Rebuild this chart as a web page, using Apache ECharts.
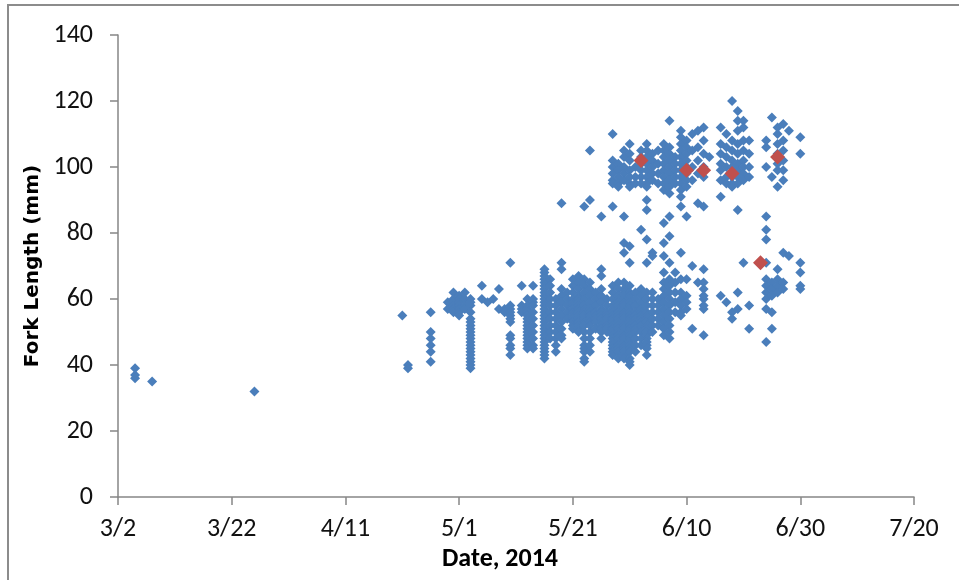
<!DOCTYPE html>
<html>
<head>
<meta charset="utf-8">
<title>Fork Length by Date, 2014</title>
<script src="https://cdn.jsdelivr.net/npm/echarts@6/dist/echarts.min.js"></script>
<style>
html, body { margin: 0; padding: 0; background: #fff; }
#chart { width: 959px; height: 580px; }
</style>
</head>
<body>
<div id="chart"></div>
<script>
// individual fish, one column per sampling date (fork length, mm)
var blueDates = [
  '3/5', '3/8', '3/26', '4/21', '4/22', '4/26', '4/29', '4/30', '5/1', '5/2',
  '5/3', '5/5', '5/6', '5/7', '5/8', '5/9', '5/10', '5/12', '5/13', '5/14',
  '5/16', '5/17', '5/18', '5/19', '5/20', '5/21', '5/22', '5/23', '5/24', '5/25',
  '5/26', '5/27', '5/28', '5/29', '5/30', '5/31', '6/1', '6/2', '6/3', '6/4',
  '6/5', '6/6', '6/7', '6/8', '6/9', '6/10', '6/11', '6/12', '6/13', '6/14',
  '6/16', '6/17', '6/18', '6/19', '6/20', '6/21', '6/24', '6/25', '6/26', '6/27',
  '6/28', '6/30'
];
var blueFL = [
  [39, 37, 36],
  [35],
  [32],
  [55],
  [40, 39],
  [56, 50, 48, 46, 44, 41],
  [59, 57],
  [62, 60, 59, 58, 57, 56],
  [61, 60, 59, 58, 57, 56, 55],
  [62, 60, 58, 57],
  [60, 59, 58, 56, 54, 53, 52, 51, 50, 49, 48, 47, 46, 45, 44, 43, 42, 41, 40, 39],
  [64, 60],
  [59],
  [60],
  [63, 57],
  [57, 56],
  [71, 58, 57, 56, 55, 54, 53, 49, 48, 46, 45, 43],
  [64, 58, 57, 56],
  [60, 58, 57, 56, 55, 54, 53, 52, 51, 50, 49, 48, 47, 46, 45],
  [64, 60, 59, 58, 56, 54, 52, 50, 48, 46, 45],
  [69, 68, 67, 66, 65, 64, 63, 62, 61, 60, 59, 58, 57, 56, 55, 54, 53, 52, 51, 50, 49, 48, 47, 46, 45, 44, 43, 42],
  [66, 64, 62, 60, 58, 56, 54, 52, 50, 48],
  [60, 58, 56, 54, 52, 50, 48, 46, 44],
  [89, 71, 69, 63, 61, 59, 57, 55, 53, 51, 49, 48],
  [62, 60, 58, 56, 54],
  [66, 64, 62, 60, 59, 58, 57, 56, 55, 54, 53, 52, 51],
  [67, 65, 63, 61, 60, 59, 58, 57, 56, 55, 54, 53, 52, 51, 50],
  [88, 66, 64, 62, 60, 58, 57, 56, 55, 54, 53, 52, 50, 48, 46, 45, 44, 42, 41],
  [105, 90, 65, 63, 61, 59, 57, 56, 55, 54, 53, 52, 50, 48, 46, 44],
  [62, 60, 58, 56, 55, 54, 53, 51],
  [85, 69, 67, 63, 61, 59, 57, 56, 55, 54, 53, 52, 51, 50, 48],
  [60, 58, 56, 55, 54, 53, 52, 51, 50],
  [110, 102, 100, 98, 96, 95, 88, 64, 62, 60, 58, 57, 56, 55, 54, 53, 52, 51, 50, 49, 48, 47, 46, 45, 44, 43],
  [101, 99, 97, 95, 94, 65, 63, 61, 60, 59, 58, 57, 56, 55, 54, 53, 52, 51, 50, 49, 48, 47, 46, 45, 44, 42],
  [105, 103, 100, 98, 96, 85, 77, 74, 65, 63, 62, 61, 60, 59, 58, 57, 56, 55, 54, 53, 52, 51, 50, 49, 48, 47, 46, 45, 44, 43, 42],
  [107, 104, 102, 99, 97, 95, 94, 76, 71, 64, 62, 61, 60, 59, 58, 57, 56, 55, 54, 53, 52, 51, 50, 49, 48, 47, 46, 45, 44, 42, 41, 40],
  [100, 97, 95, 62, 60, 58, 56, 55, 54, 53, 52, 51, 50, 48, 46, 44],
  [105, 103, 101, 99, 97, 95, 81, 63, 61, 59, 57, 56, 55, 54, 53, 52, 50, 48, 46],
  [107, 105, 103, 101, 99, 97, 95, 94, 90, 87, 78, 71, 62, 60, 58, 56, 55, 54, 53, 52, 51, 50, 49, 48, 47, 46, 45, 43],
  [104, 102, 100, 98, 96, 74, 73, 62, 60, 58, 56, 54, 52, 50],
  [105, 101, 98, 95, 60, 58, 56, 54, 52],
  [107, 105, 103, 101, 99, 97, 95, 93, 83, 77, 73, 68, 65, 63, 61, 59, 57, 55, 53, 51, 49],
  [114, 106, 104, 102, 100, 98, 96, 94, 92, 85, 79, 71, 66, 64, 62, 60, 58, 56, 54, 52, 50, 48],
  [103, 101, 99, 97, 95, 68, 65, 62, 59, 56],
  [111, 109, 107, 105, 103, 101, 99, 97, 95, 93, 91, 88, 74, 66, 62, 60, 58, 56, 55],
  [108, 106, 104, 102, 100, 98, 96, 94, 85, 66, 61, 59, 57],
  [110, 105, 100, 96, 70, 51],
  [111, 106, 102, 98, 89, 65],
  [112, 108, 104, 100, 97, 88, 69, 65, 63, 61, 60, 58, 57, 49],
  [103],
  [112, 107, 104, 101, 99, 96, 91, 61],
  [110, 106, 103, 100, 97, 95, 59],
  [120, 108, 105, 102, 100, 97, 95, 94, 56, 54],
  [117, 114, 111, 107, 104, 101, 99, 97, 95, 87, 62, 57],
  [114, 112, 108, 105, 102, 100, 98, 96, 71],
  [108, 104, 100, 97, 58, 51],
  [108, 106, 100, 85, 81, 78, 71, 66, 64, 62, 60, 57, 47],
  [115, 97, 65, 63, 61, 56, 51],
  [112, 110, 107, 104, 101, 99, 94, 69, 66, 64, 62],
  [113, 108, 105, 102, 99, 96, 74, 65, 63],
  [111, 73],
  [109, 104, 71, 68, 64, 63]
];

// red markers
var redDates = ['6/2', '6/10', '6/13', '6/18', '6/23', '6/26'];
var redFL = [102, 99, 99, 98, 71, 103];

var yTicks = [0, 20, 40, 60, 80, 100, 120, 140];
var xTicks = ['3/2', '3/22', '4/11', '5/1', '5/21', '6/10', '6/30', '7/20'];

// excel style day serial, 3/2/2014 = 41700
var EPOCH = Date.UTC(1899, 11, 30);
function serial(md) {
  var p = md.split('/');
  return Math.round((Date.UTC(2014, +p[0] - 1, +p[1]) - EPOCH) / 86400000);
}
function mdLabel(s) {
  var d = new Date(EPOCH + s * 86400000);
  return (d.getUTCMonth() + 1) + '/' + d.getUTCDate();
}

var bluePts = [];
for (var i = 0; i < blueDates.length; i++) {
  for (var j = 0; j < blueFL[i].length; j++) {
    bluePts.push([serial(blueDates[i]), blueFL[i][j]]);
  }
}
var redPts = [];
for (var k = 0; k < redDates.length; k++) {
  redPts.push([serial(redDates[k]), redFL[k]]);
}

var font = 'Calibri, Carlito, "Liberation Sans", Arial, sans-serif';
var axisGray = '#868686';

var myChart = echarts.init(document.getElementById('chart'));
var option = {
  animation: false,
  backgroundColor: '#fff',
  grid: { left: 118, right: 45, top: 35, bottom: 83 },
  graphic: [{
    type: 'rect',
    shape: { x: 8, y: 5, width: 1000, height: 620 },
    style: { fill: 'none', stroke: '#8c8c8c', lineWidth: 2 },
    silent: true
  }],
  xAxis: {
    type: 'value',
    min: serial(xTicks[0]),
    max: serial(xTicks[xTicks.length - 1]),
    interval: 20,
    name: 'Date, 2014',
    nameLocation: 'middle',
    nameGap: 47,
    nameTextStyle: {
      fontFamily: font, fontSize: 26, fontWeight: 'bold', color: '#000',
      padding: [0, 32, 0, 0]
    },
    splitLine: { show: false },
    axisLine: { show: true, lineStyle: { color: axisGray, width: 1.5 } },
    axisTick: { show: true, length: 8, lineStyle: { color: axisGray, width: 1.5 } },
    axisLabel: {
      margin: 19,
      fontFamily: font, fontSize: 26, color: '#111',
      formatter: function (v) { return mdLabel(v); }
    }
  },
  yAxis: {
    type: 'value',
    min: yTicks[0],
    max: yTicks[yTicks.length - 1],
    interval: 20,
    name: 'Fork Length (mm)',
    nameLocation: 'middle',
    nameGap: 75,
    nameTextStyle: { fontFamily: '"DejaVu Sans", Verdana, sans-serif', fontSize: 20, fontWeight: 'bold', color: '#000' },
    splitLine: { show: false },
    axisLine: { show: true, lineStyle: { color: axisGray, width: 1.5 } },
    axisTick: { show: true, length: 8, lineStyle: { color: axisGray, width: 1.5 } },
    axisLabel: { margin: 25, fontFamily: font, fontSize: 26, color: '#111' }
  },
  series: [{
    name: 'fish',
    type: 'scatter',
    symbol: 'diamond',
    symbolSize: 10,
    itemStyle: { color: '#4a7ebb', opacity: 1 },
    data: bluePts
  }, {
    name: 'mean',
    type: 'scatter',
    symbol: 'diamond',
    symbolSize: 15,
    itemStyle: { color: '#c0504d', opacity: 1 },
    z: 3,
    data: redPts
  }]
};
myChart.setOption(option);
</script>
</body>
</html>
